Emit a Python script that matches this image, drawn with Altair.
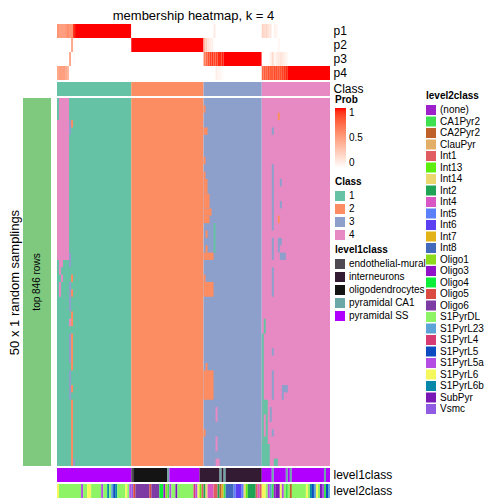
import altair as alt
import pandas as pd

FONT = "Liberation Sans"

# ---------------- data ----------------
N_SAMPLINGS = 50
CLASS_NAMES = ["1", "2", "3", "4"]
CLASS_COLORS = ["#66C2A5", "#FC8D62", "#8DA0CB", "#E78AC3"]
CLASS_COUNTS = [37, 36, 29, 34]          # columns per consensus class
P_ROWS = ["p1", "p2", "p3", "p4"]

# membership probabilities of the columns that are not a clean 1/0 (p1, p2, p3, p4)
PROB_MIXED = {
    0: (0.55, 0, 0, 0.45), 1: (0.5, 0, 0, 0.5), 2: (0.5, 0, 0, 0.5), 3: (0.5, 0, 0, 0.5),
    4: (0.55, 0, 0, 0.45), 5: (0.6, 0, 0, 0.4), 6: (0.55, 0, 0.45, 0), 7: (0.55, 0.45, 0, 0),
    8: (0.95, 0.03, 0.02, 0),
    73: (0, 0.35, 0.65, 0), 74: (0, 0.25, 0.75, 0), 75: (0, 0.15, 0.85, 0), 76: (0, 0.1, 0.9, 0),
    77: (0, 0.08, 0.92, 0), 78: (0.12, 0, 0.88, 0), 79: (0, 0, 0.9, 0.1), 80: (0, 0, 0.95, 0.05),
    81: (0, 0, 0.95, 0.05), 82: (0, 0, 0.97, 0.03),
    102: (0.25, 0, 0, 0.75), 103: (0.2, 0, 0, 0.8), 104: (0.22, 0, 0, 0.78), 105: (0.15, 0, 0, 0.85),
    106: (0.12, 0, 0.08, 0.8), 107: (0, 0, 0.2, 0.8), 108: (0.08, 0, 0.05, 0.87),
    109: (0.05, 0, 0.1, 0.85), 110: (0, 0.05, 0.12, 0.83), 111: (0, 0, 0.15, 0.85),
    112: (0, 0, 0.12, 0.88), 113: (0, 0, 0.08, 0.92), 114: (0, 0, 0.05, 0.95),
}

# samplings that disagree with the consensus: (first row, last row, first col, last col, class)
SAMPLING_EXCEPTIONS = [
    (0, 21, 1, 5, "4"), (3, 21, 0, 0, "4"), (3, 4, 6, 6, "3"), (3, 3, 7, 7, "2"),
    (21, 22, 6, 6, "3"), (22, 22, 1, 2, "4"), (23, 23, 1, 1, "4"), (24, 24, 2, 2, "4"),
    (25, 26, 1, 1, "4"), (25, 28, 6, 6, "3"), (24, 24, 7, 7, "2"), (26, 26, 7, 7, "2"),
    (29, 30, 7, 7, "2"), (30, 30, 6, 6, "4"), (32, 35, 6, 6, "3"), (32, 36, 7, 7, "2"),
    (37, 40, 6, 6, "3"), (39, 39, 7, 7, "2"), (41, 49, 7, 7, "2"), (49, 49, 8, 8, "3"),
    (1, 1, 73, 73, "2"), (4, 4, 73, 74, "2"), (8, 8, 73, 73, "2"), (10, 10, 73, 73, "2"),
    (11, 12, 73, 74, "2"), (13, 14, 73, 75, "2"), (15, 15, 73, 76, "2"), (16, 16, 73, 75, "2"),
    (18, 18, 74, 74, "2"), (20, 20, 74, 74, "2"), (21, 21, 73, 77, "2"), (17, 20, 78, 78, "1"),
    (24, 24, 73, 73, "2"), (25, 26, 73, 77, "2"), (36, 36, 74, 74, "2"), (37, 40, 73, 77, "2"),
    (42, 43, 79, 79, "4"), (45, 45, 73, 73, "2"), (46, 47, 79, 79, "4"), (49, 49, 79, 80, "4"),
    (4, 4, 107, 107, "3"), (9, 17, 107, 107, "3"), (19, 21, 107, 107, "3"), (2, 2, 110, 110, "2"),
    (16, 16, 110, 110, "2"), (11, 11, 111, 111, "3"), (14, 14, 111, 111, "3"),
    (19, 19, 110, 111, "3"), (20, 20, 110, 110, "3"), (21, 21, 111, 113, "3"),
    (23, 26, 107, 107, "3"), (34, 34, 107, 107, "3"), (37, 40, 107, 107, "3"), (45, 45, 107, 107, "3"),
    (30, 31, 103, 103, "1"), (32, 49, 102, 102, "1"), (41, 42, 103, 104, "1"), (43, 45, 104, 104, "1"),
    (46, 46, 103, 104, "1"), (47, 49, 102, 105, "1"), (49, 49, 108, 109, "1"), (42, 43, 106, 106, "3"),
    (39, 39, 112, 114, "3"), (40, 40, 112, 112, "3"),
]

LEVEL1_NAMES = ["endothelial-mural", "interneurons", "oligodendrocytes", "pyramidal CA1", "pyramidal SS"]
LEVEL1_COLORS = ["#4E4953", "#331B33", "#141414", "#6DA8A8", "#B200FF"]
LEVEL1_RUNS = [
    ("pyramidal SS", 37), ("endothelial-mural", 1), ("oligodendrocytes", 17), ("pyramidal CA1", 1),
    ("pyramidal SS", 15), ("interneurons", 10), ("pyramidal CA1", 1), ("interneurons", 1),
    ("pyramidal CA1", 1), ("interneurons", 18), ("pyramidal SS", 5), ("pyramidal CA1", 1),
    ("pyramidal SS", 6), ("pyramidal CA1", 1), ("pyramidal SS", 1), ("pyramidal CA1", 1),
    ("pyramidal SS", 16), ("pyramidal CA1", 1), ("pyramidal SS", 2),
]

LEVEL2_NAMES = ["(none)", "CA1Pyr2", "CA2Pyr2", "ClauPyr", "Int1", "Int13", "Int14", "Int2", "Int4",
                "Int5", "Int6", "Int7", "Int8", "Oligo1", "Oligo3", "Oligo4", "Oligo5", "Oligo6",
                "S1PyrDL", "S1PyrL23", "S1PyrL4", "S1PyrL5", "S1PyrL5a", "S1PyrL6", "S1PyrL6b",
                "SubPyr", "Vsmc"]
LEVEL2_COLORS = ["#9E20CA", "#3DE04F", "#C0612B", "#E2AE68", "#E05C61", "#5DEE0E", "#ECD66E",
                 "#1FA355", "#D857C4", "#5A7FF8", "#5A40F2", "#E3B419", "#4369BC", "#8EDB1E",
                 "#9112C9", "#0CEE38", "#DA4A40", "#7D3CA3", "#8DF565", "#5CA3D7", "#D63B73",
                 "#0C4CC0", "#B44DE3", "#F5F85D", "#0888A8", "#7A18B6", "#8F5BE3"]
LEVEL2_RUNS = [
    ("S1PyrL6", 1), ("S1PyrDL", 11), ("S1PyrL5a", 1), ("S1PyrDL", 2), ("S1PyrL6", 2), ("S1PyrDL", 5),
    ("S1PyrL5a", 1), ("S1PyrDL", 2), ("S1PyrL6b", 1), ("S1PyrDL", 1), ("S1PyrL23", 1), ("S1PyrL5", 1),
    ("S1PyrL6b", 1), ("S1PyrDL", 4), ("S1PyrL6", 1), ("S1PyrDL", 1), ("S1PyrL5a", 1),
    ("Vsmc", 1),
    ("Oligo5", 1), ("Oligo6", 7), ("Oligo5", 1), ("Oligo6", 4), ("Oligo4", 2), ("Oligo3", 1), ("Oligo1", 1),
    ("CA1Pyr2", 1),
    ("S1PyrL5a", 1), ("S1PyrDL", 2), ("SubPyr", 1), ("S1PyrDL", 8), ("S1PyrL4", 1), ("S1PyrL5a", 1),
    ("S1PyrL6", 1),
    ("Int13", 1), ("Int1", 1), ("Int2", 1), ("Int14", 1), ("Int4", 3), ("Int1", 2), ("Int2", 1),
    ("CA2Pyr2", 1), ("Int7", 1), ("CA1Pyr2", 1),
    ("Int8", 4), ("Int5", 1), ("Int6", 3), ("Int5", 1), ("Int14", 1), ("Int13", 1), ("Int2", 4),
    ("Int1", 1), ("Int4", 1), ("Int1", 1),
    ("S1PyrL6", 2), ("S1PyrDL", 1), ("S1PyrL5a", 1), ("S1PyrL23", 1), ("CA1Pyr2", 1),
    ("(none)", 1), ("SubPyr", 2), ("S1PyrL6", 1), ("S1PyrL5a", 1), ("S1PyrDL", 1), ("CA1Pyr2", 1),
    ("S1PyrDL", 1), ("CA2Pyr2", 1),
    ("S1PyrDL", 7), ("S1PyrL6", 1), ("S1PyrDL", 1), ("S1PyrL6b", 1), ("S1PyrL5", 1), ("S1PyrL23", 1),
    ("S1PyrL6", 1), ("S1PyrDL", 1), ("SubPyr", 1), ("S1PyrL5a", 1),
    ("CA1Pyr2", 1), ("S1PyrL5", 1), ("S1PyrL23", 1),
]

# ---------------- tables ----------------
col_class = [k for k, n in zip(CLASS_NAMES, CLASS_COUNTS) for _ in range(n)]
N = len(col_class)


def runs(values):
    out, start = [], 0
    for i in range(1, len(values) + 1):
        if i == len(values) or values[i] != values[start]:
            out.append((start, i, values[start]))
            start = i
    return out


def expand(run_list):
    return [name for name, n in run_list for _ in range(n)]


prob_cols = []
for c in range(N):
    if c in PROB_MIXED:
        prob_cols.append(PROB_MIXED[c])
    else:
        prob_cols.append(tuple(1.0 if col_class[c] == k else 0.0 for k in CLASS_NAMES))
prob_recs = []
for j, row in enumerate(P_ROWS):
    for s, e, v in runs([p[j] for p in prob_cols]):
        prob_recs.append(dict(c0=s, c1=e, row=row, prob=v))
prob_df = pd.DataFrame(prob_recs)

class_df = pd.DataFrame([dict(c0=s, c1=e, cls=v, lab="Class") for s, e, v in runs(col_class)])

main_recs = [dict(c0=s, c1=e, r0=0, r1=N_SAMPLINGS, cls=v) for s, e, v in runs(col_class)]
for r0, r1, c0, c1, k in SAMPLING_EXCEPTIONS:
    main_recs.append(dict(c0=c0, c1=c1 + 1, r0=r0, r1=r1 + 1, cls=k))
main_df = pd.DataFrame(main_recs)

lev1_df = pd.DataFrame([dict(c0=s, c1=e, level1=v, lab="level1class")
                        for s, e, v in runs(expand(LEVEL1_RUNS))])
lev2_df = pd.DataFrame([dict(c0=s, c1=e, level2=v, lab="level2class")
                        for s, e, v in runs(expand(LEVEL2_RUNS))])

bar_df = pd.DataFrame({"b0": [0], "b1": [1], "bm": [0.5], "r0": [0], "r1": [N_SAMPLINGS],
                       "rm": [N_SAMPLINGS / 2], "label": ["top 846 rows"]})

# ---------------- chart ----------------
W = 273
xs = alt.Scale(domain=[0, N], nice=False, zero=False)
band = alt.Scale(paddingInner=0, paddingOuter=0)


def right_axis():
    return alt.Axis(orient="right", title=None, ticks=False, domain=False, labelFontSize=12,
                    labelPadding=3, labelFont=FONT, labelColor="black")


def legend(title, lx, ly, row_pad=3):
    return alt.Legend(title=title, orient="none", legendX=lx, legendY=ly, direction="vertical",
                      titleFontSize=10, titleFontWeight="bold", titleFont=FONT, titleColor="black",
                      titlePadding=4, labelFontSize=10, labelFont=FONT, labelColor="black",
                      labelOffset=4, symbolType="square", symbolSize=100, symbolStrokeWidth=0,
                      symbolOpacity=1, rowPadding=row_pad, padding=0, offset=0, labelLimit=200)


class_scale = alt.Scale(domain=CLASS_NAMES, range=CLASS_COLORS)

pchart = alt.Chart(prob_df, title=alt.TitleParams(
    "membership heatmap, k = 4", fontSize=13, fontWeight="normal", font=FONT, color="black",
    anchor="middle", frame="group", offset=1)).mark_rect().encode(
    x=alt.X("c0:Q", scale=xs, axis=None), x2="c1",
    y=alt.Y("row:N", sort=P_ROWS, scale=band, axis=right_axis()),
    color=alt.Color("prob:Q", scale=alt.Scale(domain=[0, 1], range=["#FFFFFF", "#FF0000"],
                                              interpolate="lab"),
                    legend=alt.Legend(title="Prob", orient="none", legendX=278, legendY=71,
                                      direction="vertical", gradientLength=60,
                                      gradientThickness=11, values=[0, 0.5, 1], format="~g",
                                      titleFontSize=10, titleFontWeight="bold", titleFont=FONT,
                                      titleColor="black", titlePadding=3, labelFontSize=10,
                                      labelFont=FONT, labelColor="black", labelOffset=3,
                                      gradientStrokeWidth=0, padding=0, offset=0)),
).properties(width=W, height=56)

classrow = alt.Chart(class_df).mark_rect().encode(
    x=alt.X("c0:Q", scale=xs, axis=None), x2="c1",
    y=alt.Y("lab:N", scale=band, axis=right_axis()),
    color=alt.Color("cls:N", scale=class_scale, legend=legend("Class", 278, 95)),
).properties(width=W, height=14)

yaxis = alt.Axis(title="50 x 1 random samplings", labels=False, ticks=False, domain=False,
                 grid=False, minExtent=0, titlePadding=36, titleFontSize=13,
                 titleFontWeight="normal", titleFont=FONT, titleColor="black")
ys = alt.Scale(domain=[0, N_SAMPLINGS], reverse=True, nice=False, zero=False)
bs = alt.Scale(domain=[0, 1], range=[-34, -6], nice=False, zero=False)

heat = alt.Chart(main_df).mark_rect().encode(
    x=alt.X("c0:Q", scale=xs, axis=None), x2="c1",
    y=alt.Y("r0:Q", scale=ys, axis=yaxis), y2="r1",
    color=alt.Color("cls:N", scale=class_scale, legend=None),
)
bar = alt.Chart(bar_df).mark_rect(color="#7FC97F").encode(
    x=alt.X("b0:Q", scale=bs, axis=None), x2="b1",
    y=alt.Y("r0:Q", scale=ys, axis=yaxis), y2="r1",
)
bar_text = alt.Chart(bar_df).mark_text(angle=270, fontSize=10, font=FONT, color="black").encode(
    x=alt.X("bm:Q", scale=bs, axis=None),
    y=alt.Y("rm:Q", scale=ys, axis=yaxis),
    text="label:N",
)
main = alt.layer(heat, bar, bar_text).resolve_scale(x="independent").properties(width=W, height=368)

l1 = alt.Chart(lev1_df).mark_rect().encode(
    x=alt.X("c0:Q", scale=xs, axis=None), x2="c1",
    y=alt.Y("lab:N", scale=band, axis=right_axis()),
    color=alt.Color("level1:N", scale=alt.Scale(domain=LEVEL1_NAMES, range=LEVEL1_COLORS),
                    legend=legend("level1class", 278, -223)),
).properties(width=W, height=14)

l2 = alt.Chart(lev2_df).mark_rect().encode(
    x=alt.X("c0:Q", scale=xs, axis=None), x2="c1",
    y=alt.Y("lab:N", scale=band, axis=right_axis()),
    color=alt.Color("level2:N", scale=alt.Scale(domain=LEVEL2_NAMES, range=LEVEL2_COLORS),
                    legend=legend("level2class", 369, -393, row_pad=1.5)),
).properties(width=W, height=14)

chart = alt.vconcat(pchart, classrow, main, l1, l2, spacing=2, bounds="flush").resolve_scale(
    color="independent", x="independent", y="independent"
).properties(padding={"top": 2, "left": 0, "right": 0, "bottom": 0}).configure(
    font=FONT).configure_view(stroke=None)

chart.save("out.html", embed_options={"renderer": "svg", "actions": False})
